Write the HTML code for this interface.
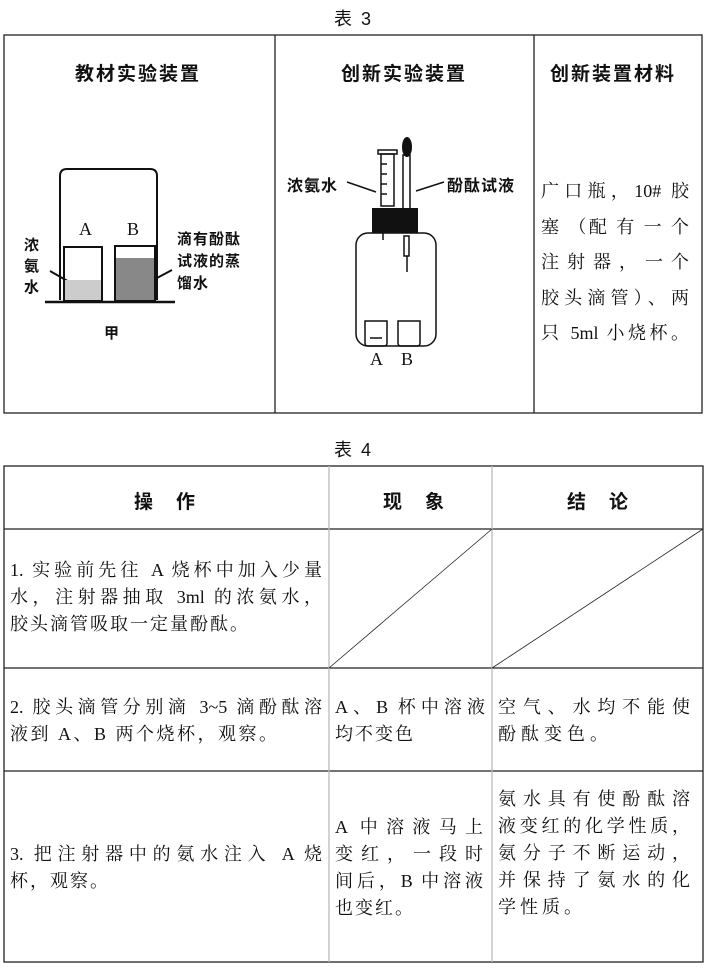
<!DOCTYPE html><html><head><meta charset="utf-8"><style>
body{margin:0;width:708px;height:971px;background:#fff;position:relative;overflow:hidden;font-family:"Liberation Serif","Noto Serif CJK SC",serif;color:#111}
.a{position:absolute;white-space:nowrap}
.h{font-family:"Liberation Sans","Noto Sans CJK SC",sans-serif;font-size:19px;font-weight:bold;letter-spacing:2px}
.t{font-size:18px;line-height:27px}
.t div{height:27px}
.j{text-align:justify;text-align-last:justify}
</style></head><body>
<div class="a h" style="left:334px;top:5px;font-weight:normal;font-size:18px">表 3</div>
<div class="a h" style="left:334px;top:436px;font-weight:normal;font-size:18px">表 4</div>
<svg class="a" style="left:0;top:0" width="708" height="971">
<g fill="none" stroke="#222" stroke-width="1.3">
<rect x="4" y="35" width="698" height="378"/>
<line x1="275" y1="35" x2="275" y2="413"/><line x1="534" y1="35" x2="534" y2="413"/>
<rect x="4" y="466" width="699" height="496"/>
<line x1="4" y1="529" x2="703" y2="529"/><line x1="4" y1="668" x2="703" y2="668"/><line x1="4" y1="771" x2="703" y2="771"/>
<line x1="329" y1="466" x2="329" y2="962" stroke="#bbb"/><line x1="492" y1="466" x2="492" y2="962" stroke="#bbb"/>
<line x1="329" y1="668" x2="492" y2="529" stroke-width="0.8"/><line x1="492" y1="668" x2="703" y2="529" stroke-width="0.8"/>
</g>
<g fill="none" stroke="#111" stroke-width="2">
<path d="M60 300 V176 Q60 169 67 169 H150 Q157 169 157 176 V300"/>
<rect x="64" y="247" width="38" height="53"/>
<rect x="115" y="246" width="40" height="54"/>
<line x1="45" y1="302" x2="175" y2="302" stroke-width="2.5"/>
<line x1="50" y1="271" x2="78" y2="287"/><line x1="172" y1="270" x2="140" y2="287"/>
<line x1="347" y1="182" x2="376" y2="192" stroke-width="1.5"/><line x1="444" y1="182" x2="416" y2="191" stroke-width="1.5"/>
</g>
<rect x="65" y="280" width="36" height="20" fill="#ccc"/>
<rect x="116" y="258" width="38" height="42" fill="#888"/>
<g fill="none" stroke="#111" stroke-width="1.5">
<rect x="378" y="150" width="19" height="4"/><rect x="381" y="154" width="13" height="52"/>
<path d="M381 164h6M381 174h6M381 184h6M381 194h6"/>
<rect x="403" y="155" width="7" height="55"/>
<rect x="356" y="233" width="80" height="113" rx="12"/>
<line x1="383" y1="233" x2="383" y2="240"/>
<path d="M404 236h5v20h-5z"/><line x1="407" y1="256" x2="407" y2="272"/>
<path d="M365 321h22v22q0 3-3 3h-16q-3 0-3-3z"/><path d="M398 321h22v22q0 3-3 3h-16q-3 0-3-3z"/>
<path d="M370 338h12"/>
</g>
<ellipse cx="407" cy="147" rx="5" ry="10" fill="#111"/>
<rect x="372" y="208" width="46" height="25" fill="#111"/>
</svg>
<div class="a h" style="left:75px;top:59px">教材实验装置</div>
<div class="a h" style="left:341px;top:59px">创新实验装置</div>
<div class="a h" style="left:550px;top:59px">创新装置材料</div>
<div class="a t" style="left:79px;top:216px">A</div><div class="a t" style="left:127px;top:216px">B</div>
<div class="a h" style="left:24px;top:235px;font-size:15px;line-height:21px;white-space:normal;width:18px;letter-spacing:0">浓氨水</div>
<div class="a h" style="left:177px;top:229px;font-size:15px;line-height:22px;letter-spacing:1px">滴有酚酞<br>试液的蒸<br>馏水</div>
<div class="a h" style="left:104px;top:322px;font-size:15px">甲</div>
<div class="a h" style="left:287px;top:172px;font-size:16px;letter-spacing:1px">浓氨水</div>
<div class="a h" style="left:447px;top:172px;font-size:16px;letter-spacing:1px">酚酞试液</div>
<div class="a t" style="left:370px;top:346px">A</div><div class="a t" style="left:401px;top:346px">B</div>
<div class="a t" style="left:541px;top:174px;width:148px;line-height:35.5px"><div class="j" style="height:35.5px">广口瓶，10# 胶</div><div class="j" style="height:35.5px">塞 （配 有 一 个</div><div class="j" style="height:35.5px">注 射 器 ， 一 个</div><div class="j" style="height:35.5px">胶头滴管）、两</div><div class="j" style="height:35.5px">只 5ml 小烧杯。</div></div>
<div class="a h" style="left:134px;top:487px">操　作</div>
<div class="a h" style="left:383px;top:487px">现　象</div>
<div class="a h" style="left:567px;top:487px">结　论</div>
<div class="a t" style="left:10px;top:557px;width:312px"><div class="j">1. 实验前先往 A 烧杯中加入少量</div><div class="j">水，注射器抽取 3ml 的浓氨水，</div><div style="letter-spacing:2px">胶头滴管吸取一定量酚酞。</div></div>
<div class="a t" style="left:10px;top:694px;width:312px"><div class="j">2. 胶头滴管分别滴 3~5 滴酚酞溶</div><div style="letter-spacing:2.5px">液到 A、B 两个烧杯，观察。</div></div>
<div class="a t" style="left:335px;top:694px;width:150px"><div class="j">A、B 杯中溶液</div><div style="letter-spacing:2px">均不变色</div></div>
<div class="a t" style="left:498px;top:694px;width:192px"><div class="j">空气、水均不能使</div><div style="letter-spacing:5px">酚酞变色。</div></div>
<div class="a t" style="left:10px;top:841px;width:312px"><div class="j">3. 把注射器中的氨水注入 A 烧</div><div style="letter-spacing:2px">杯，观察。</div></div>
<div class="a t" style="left:335px;top:814px;width:148px"><div class="j">A 中溶液马上</div><div class="j">变红，一段时</div><div class="j">间后，B 中溶液</div><div style="letter-spacing:2px">也变红。</div></div>
<div class="a t" style="left:498px;top:786px;width:192px"><div class="j">氨水具有使酚酞溶</div><div class="j">液变红的化学性质，</div><div class="j">氨分子不断运动，</div><div class="j">并保持了氨水的化</div><div style="letter-spacing:4px">学性质。</div></div>
</body></html>
